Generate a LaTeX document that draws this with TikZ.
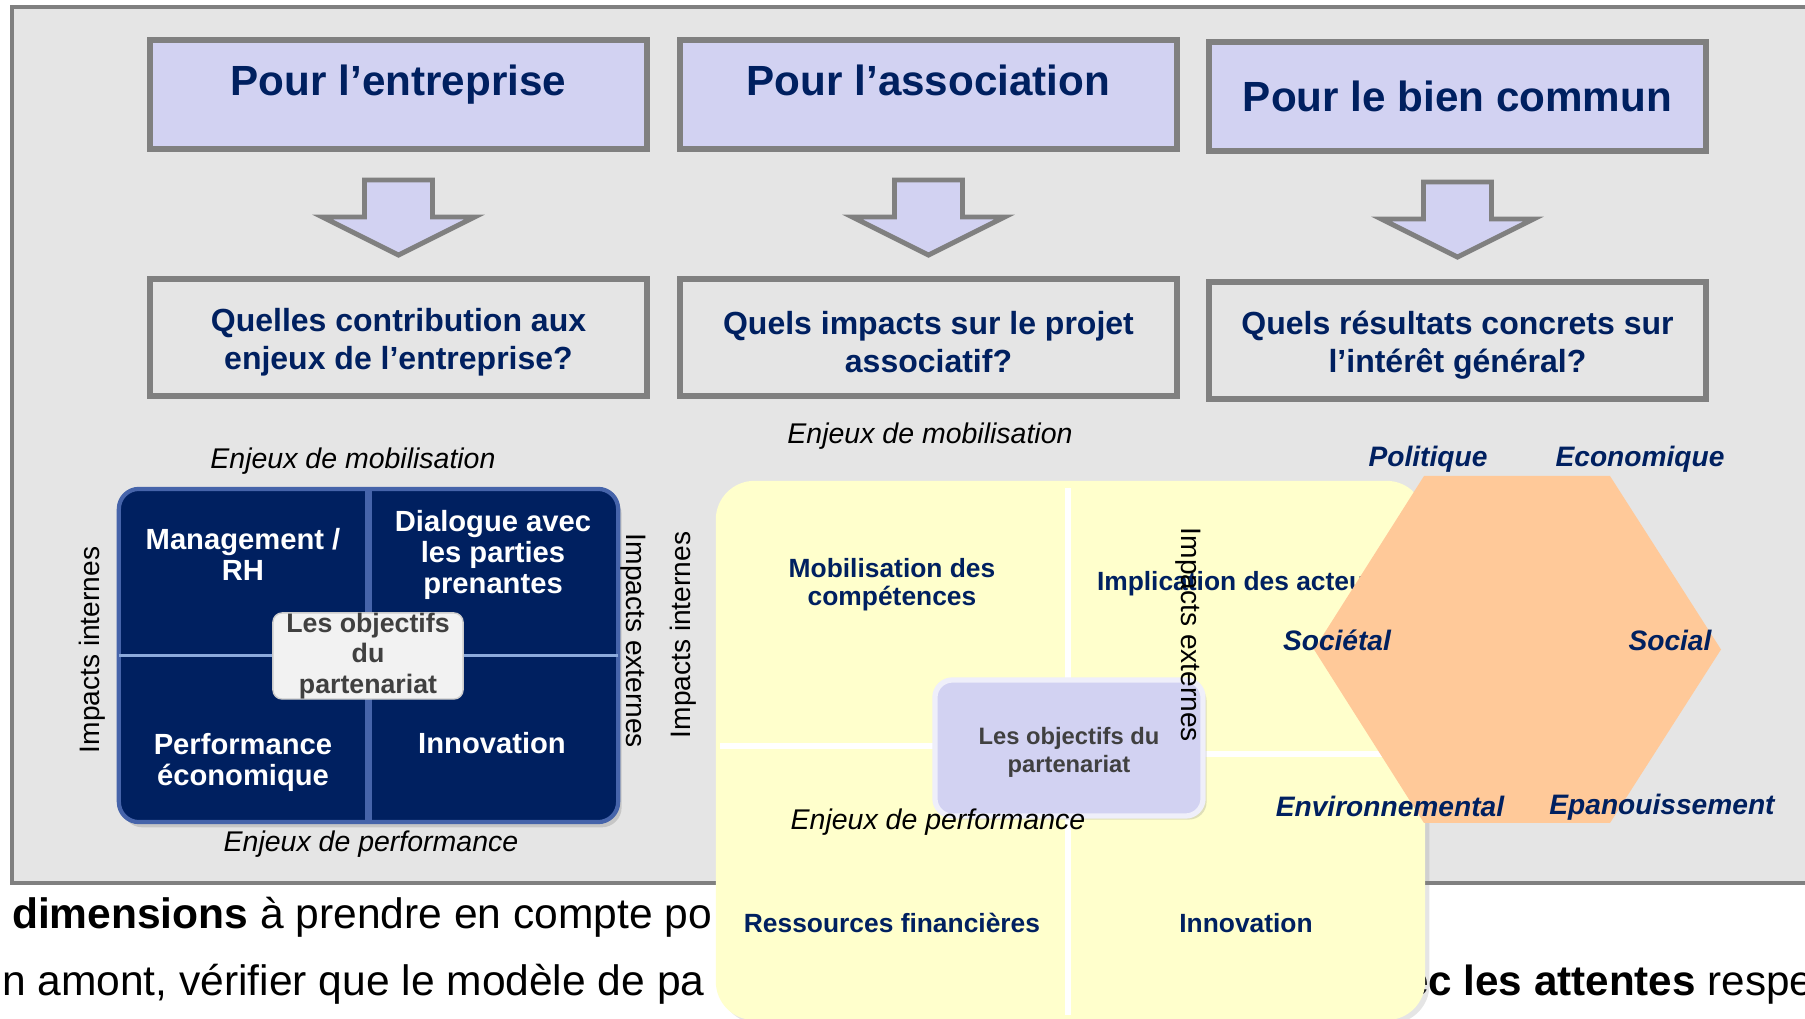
\documentclass[tikz,border=0pt]{standalone}
\usepackage{fontspec}
\setmainfont{Liberation Sans}
\usepackage{xcolor}
\usepackage{tikz}
\usetikzlibrary{shadows}

\definecolor{navy}{RGB}{0,32,96}
\definecolor{lav}{RGB}{210,210,242}
\definecolor{frgray}{RGB}{128,128,128}
\definecolor{bggray}{RGB}{229,229,229}
\definecolor{yel}{RGB}{255,255,204}
\definecolor{peach}{RGB}{255,201,153}
\definecolor{dgray}{RGB}{64,64,64}
\definecolor{tileedge}{RGB}{70,100,170}
\definecolor{tileline}{RGB}{140,170,220}

\begin{document}
\begin{tikzpicture}[x=0.01cm, y=-0.01cm,
  every node/.style={inner sep=0pt, outer sep=0pt},
  titlebox/.style={draw=frgray, line width=1.7pt, fill=lav, minimum width=4.97cm, minimum height=1.09cm},
  titletext/.style={text=navy, text height=9pt, text depth=2.6pt, font=\bfseries\fontsize{12}{14}\selectfont},
  askbox/.style={draw=frgray, line width=1.7pt, fill=bggray, minimum width=4.97cm, minimum height=1.17cm},
  asktext/.style={align=center, text=navy, font=\bfseries\fontsize{9.1}{10.8}\selectfont},
  downarrow/.style={draw=frgray, line width=1.4pt, fill=lav},
  enjeu/.style={font=\itshape\fontsize{8.1}{9.7}\selectfont},
  impact/.style={font=\fontsize{8}{9.6}\selectfont},
  bluequad/.style={fill=navy, draw=tileedge, line width=1.2pt, rounded corners=5.7pt, minimum width=4.99cm, minimum height=3.33cm, drop shadow={opacity=0.3, shadow xshift=1pt, shadow yshift=-1.5pt}},
  tiletext/.style={text=white, align=center, font=\bfseries\fontsize{8.3}{8.8}\selectfont},
  objwhite/.style={fill=white!95!black, draw=white!80!black, line width=0.4pt, rounded corners=2.6pt, minimum width=1.9cm, minimum height=0.85cm, align=center, text=dgray, font=\bfseries\fontsize{7.6}{8.7}\selectfont},
  yelquad/.style={fill=yel, rounded corners=11pt, minimum width=7.09cm, minimum height=5.39cm, drop shadow={opacity=0.2, shadow xshift=1.2pt, shadow yshift=-1pt}},
  ydiv/.style={white, line width=1.6pt},
  yeltext/.style={text=navy, align=center, font=\bfseries\fontsize{7.5}{7.9}\selectfont},
  objlav/.style={fill=lav, draw=lav!35!white, line width=1.5pt, rounded corners=5pt, minimum width=2.68cm, minimum height=1.36cm, drop shadow={opacity=0.25, shadow xshift=1pt, shadow yshift=-1pt}},
  objtext/.style={align=center, text=dgray, font=\bfseries\fontsize{6.75}{8}\selectfont},
  hexlabel/.style={text=navy, font=\bfseries\itshape\fontsize{8}{9.6}\selectfont},
  bottomtext/.style={font=\fontsize{12.1}{14.5}\selectfont}]

\useasboundingbox (0,0) rectangle (1805,1019);
\clip (0,0) rectangle (1805,1019);
\fill[white] (0,0) rectangle (1805,1019);

% Frame
\draw[draw=frgray, line width=1.3pt, fill=bggray] (12,7) rectangle (1900,883);

% Text under the slide
\node[bottomtext, anchor=base west] (ln1) at (12,929) {\textbf{dimensions} à prendre en compte po};
\node[bottomtext, anchor=base west] (ln2) at (2,996) {n amont, vérifier que le modèle de pa};
\node[bottomtext, anchor=base west, font=\fontsize{12}{14.5}\selectfont] (ln3) at (1405,996) {\textbf{ec les attentes} respe};

% Boxes
\node[titlebox] (pe) at (398.5,94.5) {};
\node[titlebox] (pa) at (928.5,94.5) {};
\node[titlebox] (pb) at (1457.5,96.5) {};
\node[titletext] (pet) at (398.5,84) {Pour l’entreprise};
\node[titletext] (pat) at (928.5,84) {Pour l’association};
\node[titletext] (pbt) at (1457.5,100.5) {Pour le bien commun};

\node[askbox] (qe) at (398.5,337.5) {};
\node[askbox] (qa) at (928.5,337.5) {};
\node[askbox] (qb) at (1457.5,340.5) {};
\node[asktext] (qet) at (398.5,342) {Quelles contribution aux\\enjeux de l’entreprise?};
\node[asktext] (qat) at (928.5,342) {Quels impacts sur le projet\\associatif?};
\node[asktext] (qbt) at (1457.5,345) {Quels résultats concrets sur\\l’intérêt général?};

%Arrows
\foreach \b in {pe,pa,pb}{
  \draw[downarrow] (\b.south) ++(-34,31) -- ++(68,0) -- ++(0,37) -- ++(42,0)
    -- ++(-76,38) -- ++(-76,-38) -- ++(42,0) -- cycle;
}

% Enterprise matrix
\node[enjeu] (em1) at (353,461) {Enjeux de mobilisation};
\node[bluequad] (bq) at (368.5,655.5) {};
\draw[tileedge, line width=2pt] (bq.north) -- (bq.south);
\draw[tileline, line width=1pt] (bq.west) -- (bq.east);
\node[tiletext] (mrh) at (243,554) {Management /\\RH};
\node[tiletext] (dpp) at (493,555) {Dialogue avec\\les parties\\prenantes};
\node[tiletext] (pec) at (243,762) {Performance\\économique};
\node[tiletext] (inn) at (492,743) {Innovation};
\node[objwhite] (ob1) at (368,656) {Les objectifs\\du\\partenariat};
\node[enjeu] (ep1) at (371,844) {Enjeux de performance};
\node[impact, rotate=90] (ii1) at (92,650) {Impacts internes};
\node[impact, rotate=-90] (ie1) at (633,641) {Impacts externes};
\node[impact, rotate=90] (ii2) at (683,635) {Impacts internes};

% Association matrix
\node[enjeu] (em2) at (930,436) {Enjeux de mobilisation};
\node[yelquad] (yq) at (1070.5,750.5) {};
\draw[ydiv] (1068,488) -- (1068,1015);
\draw[ydiv] (720,746) -- (1068,746);
\draw[ydiv] (1068,754) -- (1420,754);
\node[yeltext] (mob) at (892,585) {Mobilisation des\\compétences};
\node[yeltext, anchor=west] (imp) at (1097,584) {Implication des acteurs};
\node[yeltext] (res) at (892,923) {Ressources financières};
\node[yeltext] (inn2) at (1246,923) {Innovation};

% Common good hexagon
\fill[peach] (1424,476) -- (1610,476) -- (1721,649.5) -- (1610,823) -- (1424,823) -- (1314,649.5) -- cycle;

\node[objlav] (ob2) at (1069,748) {};
\node[objtext] (ob2t) at (1069,752) {Les objectifs du\\partenariat};
\node[enjeu] (ep2) at (938,822) {Enjeux de performance};
\node[impact, rotate=-90] (ie2) at (1188,635) {Impacts externes};

\node[hexlabel] (pol) at (1428,459) {Politique};
\node[hexlabel] (eco) at (1640,459) {Economique};
\node[hexlabel] (soc) at (1337,640) {Sociétal};
\node[hexlabel] (sol) at (1670,640) {Social};
\node[hexlabel] (env) at (1390,806) {Environnemental};
\node[hexlabel] (epa) at (1662,807) {Epanouissement};
\end{tikzpicture}
\end{document}
